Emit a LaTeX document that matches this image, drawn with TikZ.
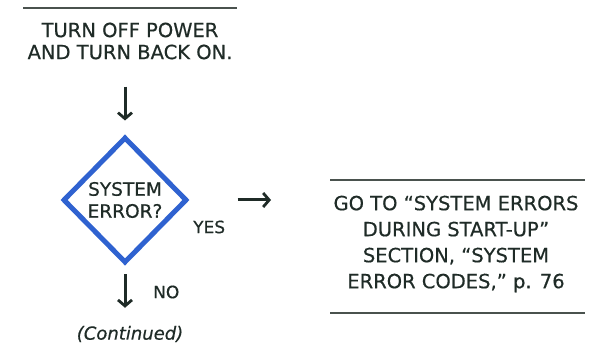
\documentclass[tikz,border=0pt]{standalone}
\usepackage{fontspec}
\setmainfont{DejaVu Sans}[FakeBold=0.5]
\usetikzlibrary{shapes.geometric,arrows.meta}
\definecolor{ink}{HTML}{1F2B27}
\definecolor{dblue}{HTML}{2F62D0}
\definecolor{rulec}{HTML}{4A524E}
\tikzset{
  txt/.style={align=center,text=ink,font=\fontsize{19.5}{22}\selectfont,inner sep=0pt},
  arr/.style={draw=ink,line width=3pt,-{Straight Barb[length=6pt,width=14pt,line width=2.8pt]}},
  hrule/.style={draw=rulec,line width=1.8pt},
  dia/.style={diamond,draw=dblue,line width=5pt,minimum width=124pt,minimum height=126pt,inner sep=0pt,align=center,text=ink,font=\fontsize{18.5}{22}\selectfont},
}
\begin{document}
\begin{tikzpicture}[x=1pt,y=-1pt]
\useasboundingbox (0,0) rectangle (599,344);
\draw[hrule] (23,8) coordinate (t1) -- (237,8) coordinate (t2);
\node[txt] (top) at (130,41) {TURN OFF POWER\\AND TURN BACK ON.};
\node[dia] (d) at (125,200) {SYSTEM\\ERROR?};
\node[txt,font=\fontsize{17}{20}\selectfont,anchor=west] (yes) at (193,227) {YES};
\node[txt,font=\fontsize{17}{20}\selectfont,anchor=west] (no) at (153,292) {NO};
\node[txt,font=\fontsize{18}{20}\selectfont\itshape] (cont) at (130,334) {(Continued)};
\draw[hrule] (330,180) coordinate (b1) -- (585,180) coordinate (b2);
\draw[hrule] (330,313) coordinate (b3) -- (585,313) coordinate (b4);
\node[txt,font=\fontsize{19.5}{26}\selectfont] (box) at (456,244) {GO TO ``SYSTEM ERRORS\\DURING START-UP''\\SECTION, ``SYSTEM\\ERROR CODES,'' p. 76};
\draw[arr,shorten <=27pt,shorten >=14pt] (top.south -| d.north) -- (d.north);
\draw[arr,shorten <=48pt,shorten >=59pt] (d.east) -- (d.east -| b1);
\draw[arr,shorten <=9pt,shorten >=18pt] (d.south) -- (d.south |- cont.north);
\end{tikzpicture}
\end{document}
